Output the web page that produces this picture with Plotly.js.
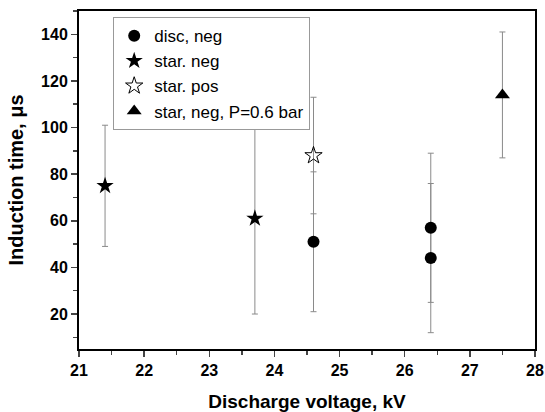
<!DOCTYPE html>
<html><head><meta charset="utf-8">
<script src="https://cdn.plot.ly/plotly-3.0.1.min.js"></script>
<style>html,body{margin:0;padding:0;background:#fff}</style>
</head><body><div id="chart" style="width:545px;height:412px"></div>
<script>
var discX = [24.6, 26.4, 26.4];
var discY = [51, 57, 44];
var discErr = [30, 32, 32];
var starNegX = [21.4, 23.7];
var starNegY = [75, 61];
var starNegErr = [26, 41];
var starPosX = [24.6];
var starPosY = [88];
var starPosErr = [25];
var triX = [27.5];
var triY = [114];
var triErr = [27];
var names = ["disc, neg", "star. neg", "star. pos", "star, neg, P=0.6 bar"];
var xTicks = [21, 22, 23, 24, 25, 26, 27, 28];
var yTicks = [20, 40, 60, 80, 100, 120, 140];

function tr(x, y, e, name, sym, size) {
  return {
    x: x, y: y, name: name, type: 'scatter', mode: 'markers',
    marker: {symbol: sym, size: size, color: '#000', line: {color: '#000', width: sym.indexOf('open') >= 0 ? 1 : 0}},
    error_y: {type: 'data', array: e, visible: true, color: '#8a8a8a', thickness: 1, width: 3}
  };
}
var data = [
  tr(discX, discY, discErr, names[0], 'circle', 12),
  tr(starNegX, starNegY, starNegErr, names[1], 'star', 13),
  tr(starPosX, starPosY, starPosErr, names[2], 'star-open', 13),
  tr(triX, triY, triErr, names[3], 'triangle-up', 13)
];
var fam = 'Liberation Sans, Arial, sans-serif';
var layout = {
  width: 545, height: 412,
  margin: {l: 79, r: 10, t: 11, b: 63},
  paper_bgcolor: '#fff', plot_bgcolor: '#fff',
  font: {family: fam, color: '#000'},
  showlegend: true,
  legend: {x: 0.075, y: 0.982, xanchor: 'left', yanchor: 'top', bgcolor: '#fff',
    bordercolor: '#999', borderwidth: 1, font: {family: fam, size: 17, color: '#000'},
    tracegroupgap: 0},
  xaxis: {
    range: [21, 28], tickmode: 'array', tickvals: xTicks, ticktext: xTicks.map(String),
    ticks: 'outside', ticklen: 6, tickwidth: 1.5,
    showline: true, mirror: true, linewidth: 2, linecolor: '#000', showgrid: false, zeroline: false,
    tickfont: {family: fam, size: 16, color: '#000', weight: 700},
    minor: {dtick: 0.5, tick0: 21, ticks: 'outside', ticklen: 4, tickwidth: 1.5, showgrid: false},
    title: {text: 'Discharge voltage, kV', font: {family: fam, size: 19, color: '#000', weight: 700}, standoff: 16}
  },
  yaxis: {
    range: [5, 150], tickmode: 'array', tickvals: yTicks, ticktext: yTicks.map(String),
    ticks: 'outside', ticklen: 6, tickwidth: 1.5,
    showline: true, mirror: true, linewidth: 2, linecolor: '#000', showgrid: false, zeroline: false,
    tickfont: {family: fam, size: 16, color: '#000', weight: 700},
    minor: {dtick: 10, tick0: 0, ticks: 'outside', ticklen: 4, tickwidth: 1.5, showgrid: false},
    title: {text: 'Induction time, μs', font: {family: fam, size: 20, color: '#000', weight: 700}, standoff: 12}
  }
};
Plotly.newPlot('chart', data, layout, {displayModeBar: false, staticPlot: true});
</script></body></html>
